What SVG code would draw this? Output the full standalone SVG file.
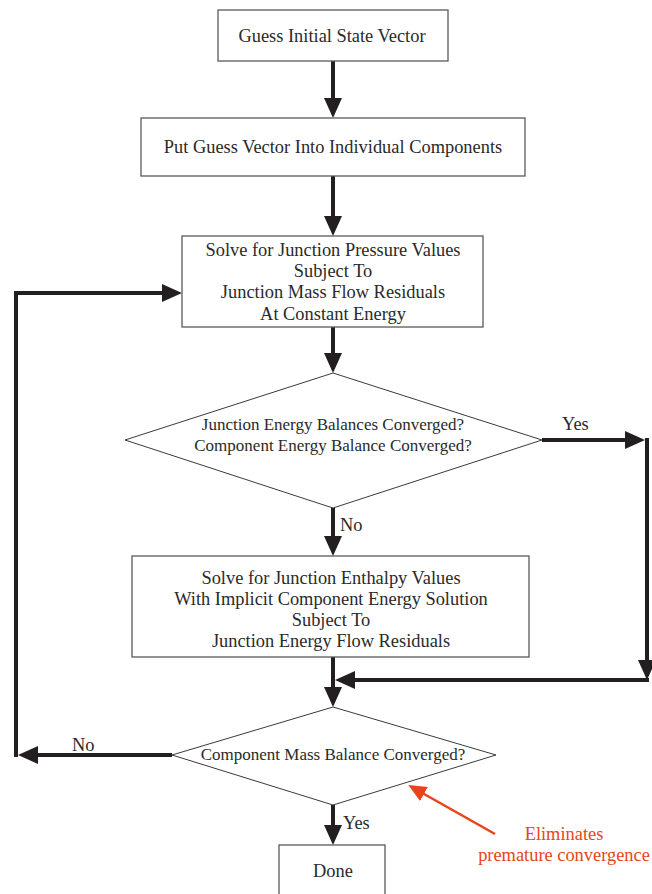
<svg xmlns="http://www.w3.org/2000/svg" width="652" height="894" viewBox="0 0 652 894">
  <style>
    .box { fill: #ffffff; stroke: #5a5a5a; stroke-width: 1.3; }
    .dia { fill: #ffffff; stroke: #3a3a3a; stroke-width: 1; }
    .lbl { font-family: "Liberation Serif", "Times New Roman", serif; font-size: 18.4px; fill: #2a2a2a; text-anchor: middle; }
    .dlbl { font-family: "Liberation Serif", "Times New Roman", serif; font-size: 17px; fill: #2a2a2a; text-anchor: middle; }
    .tag { font-family: "Liberation Serif", "Times New Roman", serif; font-size: 18.4px; fill: #2a2a2a; }
    .note { font-family: "Liberation Serif", "Times New Roman", serif; font-size: 18.4px; fill: #e8441a; text-anchor: middle; }
    .flow { fill: none; stroke: #231f20; stroke-width: 4; marker-end: url(#head); }
    .wire { fill: none; stroke: #231f20; stroke-width: 4; }
    .hint { fill: none; stroke: #e8441a; stroke-width: 2.5; marker-end: url(#headOrange); }
  </style>
  <defs>
    <marker id="head" markerUnits="userSpaceOnUse" markerWidth="20" markerHeight="18" refX="10" refY="9" orient="auto">
      <path d="M0,0 L20,9 L0,18 z" fill="#231f20"/>
    </marker>
    <marker id="headOrange" markerUnits="userSpaceOnUse" markerWidth="18" markerHeight="16" refX="8" refY="8" orient="auto">
      <path d="M0,0 L18,8 L0,16 z" fill="#e8441a"/>
    </marker>
  </defs>

  <!-- connectors -->
  <g id="connectors">
    <path class="flow" d="M333,61 V108"/>
    <path class="flow" d="M333,176 V226"/>
    <path class="flow" d="M333,327 V363"/>
    <path class="flow" d="M333,508 V546"/>
    <path class="flow" d="M333,657 V697"/>
    <path class="flow" d="M333,805 V835"/>
    <!-- yes branch bypassing the enthalpy solve -->
    <path class="flow" d="M542,440 H635"/>
    <path class="flow" d="M647,438 V670"/>
    <path class="flow" d="M649,680 H345"/>
    <!-- outer loop back to the pressure solve -->
    <path class="flow" d="M172,755 H28"/>
    <path class="wire" d="M16,757 V293"/>
    <path class="flow" d="M14,293 H172"/>
    <!-- branch labels -->
    <text class="tag" x="562" y="430">Yes</text>
    <text class="tag" x="340" y="531">No</text>
    <text class="tag" x="72" y="751">No</text>
    <text class="tag" x="343" y="829">Yes</text>
    <!-- annotation -->
    <path class="hint" d="M495,834 L417,790"/>
    <text class="note" x="564" y="840">Eliminates</text>
    <text class="note" x="564" y="861">premature convergence</text>
  </g>

  <g id="guess">
    <rect class="box" x="218" y="10" width="230" height="51"/>
    <text class="lbl" x="332" y="42">Guess Initial State Vector</text>
  </g>

  <g id="distribute">
    <rect class="box" x="141" y="118" width="384" height="58"/>
    <text class="lbl" x="333" y="153">Put Guess Vector Into Individual Components</text>
  </g>

  <g id="pressure-solve">
    <rect class="box" x="182" y="236" width="301" height="91"/>
    <text class="lbl" x="333" y="256">Solve for Junction Pressure Values</text>
    <text class="lbl" x="333" y="277">Subject To</text>
    <text class="lbl" x="333" y="298">Junction Mass Flow Residuals</text>
    <text class="lbl" x="333" y="320">At Constant Energy</text>
  </g>

  <g id="energy-check">
    <polygon class="dia" points="333,373 542,440 333,508 125,440"/>
    <text class="dlbl" x="333" y="430">Junction Energy Balances Converged?</text>
    <text class="dlbl" x="333" y="451">Component Energy Balance Converged?</text>
  </g>

  <g id="enthalpy-solve">
    <rect class="box" x="132" y="556" width="397" height="101"/>
    <text class="lbl" x="331" y="584">Solve for Junction Enthalpy Values</text>
    <text class="lbl" x="331" y="605">With Implicit Component Energy Solution</text>
    <text class="lbl" x="331" y="626">Subject To</text>
    <text class="lbl" x="331" y="647">Junction Energy Flow Residuals</text>
  </g>

  <g id="mass-check">
    <polygon class="dia" points="333,707 496,755 333,805 172,755"/>
    <text class="dlbl" x="333" y="760">Component Mass Balance Converged?</text>
  </g>

  <g id="done">
    <rect class="box" x="279" y="845" width="106" height="52"/>
    <text class="lbl" x="333" y="877">Done</text>
  </g>
</svg>
